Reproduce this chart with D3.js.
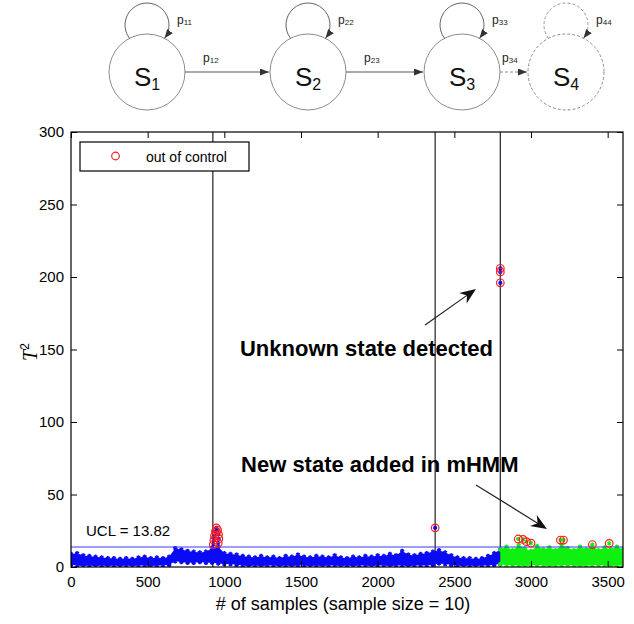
<!DOCTYPE html>
<html>
<head>
<meta charset="utf-8">
<script src="https://cdn.jsdelivr.net/npm/d3@7"></script>
<style>
  body { margin: 0; background: #fff; }
  svg { display: block; }
  text { font-family: "Liberation Sans", Arial, Helvetica, sans-serif; }
</style>
</head>
<body>
<svg id="chart" width="634" height="624"></svg>
<script>
// ---------------- data ----------------
// Markov chain states and transition labels
const stateNames = ["1", "2", "3", "4"];
const selfLabels = ["11", "22", "33", "44"];
const stepLabels = ["12", "23", "34"];

// T^2 statistic, 40-sample bins: upper and lower extent of the point cloud
const blueHigh = [
  9, 9.5, 8, 7.5, 7, 6.5, 6, 6, 5.5, 6,
  5.5, 6.5, 7, 6, 6.5, 6, 7, 13, 12, 11,
  10.5, 10, 10.5, 13, 14, 9.5, 9, 8.5, 7.5, 7,
  6.5, 7.5, 6.5, 7, 6, 7.5, 7, 8.5, 7, 6.5,
  7.5, 7, 6.5, 8, 6.5, 6, 7, 6.5, 7.5, 7,
  8, 7.5, 9, 8, 11, 8.5, 8, 9, 9.5, 10.5,
  11.5, 10, 8, 6.5, 6, 6, 5.5, 6, 7.5, 9.5,
  12
];
const blueLow = [
  1.5, 1, 0.5, 1, 0.5, 1, 0.5, 1, 0.5, 1,
  0.5, 1, 1, 0.5, 1, 1, 1.5, 4, 3.5, 3,
  3, 3.5, 3, 3, 2.5, 2, 2, 1.5, 1, 0.5,
  1, 0.5, 1, 1, 0.5, 1, 0.5, 1, 1, 0.5,
  1, 0.5, 1, 1, 0.5, 1, 0.5, 1, 1, 0.5,
  1, 1, 0.5, 1, 1, 0.5, 1, 1, 1, 1.5,
  2.5, 2, 1.5, 1, 0.5, 1, 0.5, 1, 1, 1.5,
  2
];
const greenHigh = [12, 14, 11.5, 15, 12.5, 11, 14.5, 12, 13.5, 11.5, 15, 13, 11.5, 14, 12, 14.5, 11.5, 13.5, 12, 14, 12];
const greenLow  = [2, 1, 1.5, 1, 0.5, 1, 1.5, 1, 0.5, 1, 1, 1.5, 1, 0.5, 1, 1, 1.5, 1, 0.5, 1, 1];
const blueStart = 0, greenStart = 2800, binWidth = 40;

// out-of-control samples
const blueAlarmSample = [928, 932, 936, 942, 948, 956, 962, 964, 960, 2375, 2800, 2800, 2800];
const blueAlarmValue  = [15.5, 18.5, 21.5, 24.5, 27, 25.5, 22.5, 19.5, 16.5, 27, 196, 203.5, 206];
const greenAlarmSample = [2917, 2948, 2970, 3000, 3192, 3212, 3400, 3510];
const greenAlarmValue  = [19.3, 19, 17.5, 16.5, 18.6, 18.6, 15.5, 16.3];

// state change points and control limit
const changePoints = [925, 2375, 2800];
const ucl = 13.82;

// axis ticks
const xTicks = [0, 500, 1000, 1500, 2000, 2500, 3000, 3500];
const yTicks = [0, 50, 100, 150, 200, 250, 300];

// ---------------- drawing ----------------
const svg = d3.select("#chart");

// ---- state diagram ----
const diag = svg.append("g");
const defs = svg.append("defs");
defs.append("marker")
  .attr("id", "ah").attr("markerUnits", "userSpaceOnUse")
  .attr("markerWidth", 9).attr("markerHeight", 7)
  .attr("refX", 9).attr("refY", 3.5).attr("orient", "auto")
  .append("path").attr("d", "M0,0 L9,3.5 L0,7 Z").attr("fill", "#333");

const cy = 72, r = 38, loopR = 22, loopCy = 25;
const cxs = [147, 308, 462, 566];
const circleCol = "#8c8c8c";

cxs.forEach((cx, i) => {
  const dashed = i === 3;
  diag.append("circle")
    .attr("cx", cx).attr("cy", cy).attr("r", r)
    .attr("fill", "none").attr("stroke", circleCol).attr("stroke-width", 1)
    .attr("stroke-dasharray", dashed ? "3,2" : null);
  // self loop: arc of a small circle that meets the state circle
  const d = cy - loopCy;
  const a = (loopR * loopR - r * r + d * d) / (2 * d);
  const h = Math.sqrt(loopR * loopR - a * a);
  const iy = loopCy + a;
  diag.append("path")
    .attr("d", `M${cx - h},${iy} A${loopR},${loopR} 0 1 1 ${cx + h},${iy}`)
    .attr("fill", "none").attr("stroke", dashed ? "#999" : "#666").attr("stroke-width", 1)
    .attr("stroke-dasharray", dashed ? "3,2" : null)
    .attr("marker-end", "url(#ah)");
  const st = diag.append("text")
    .attr("x", cx).attr("y", 86).attr("text-anchor", "middle")
    .attr("font-size", 26).attr("fill", "#111").text("S");
  st.append("tspan").attr("font-size", 16).attr("dy", 4).text(stateNames[i]);
  const pl = diag.append("text")
    .attr("x", cx + 30).attr("y", 24).attr("font-size", 12).attr("fill", "#222").text("p");
  pl.append("tspan").attr("font-size", 8).attr("dy", 1).text(selfLabels[i]);
});

stepLabels.forEach((lab, i) => {
  const x1 = cxs[i] + r, x2 = cxs[i + 1] - r;
  const dashed = i === 2;
  diag.append("line")
    .attr("x1", x1).attr("x2", x2 - 1).attr("y1", cy).attr("y2", cy)
    .attr("stroke", dashed ? "#888" : "#555").attr("stroke-width", 1)
    .attr("stroke-dasharray", dashed ? "3,2" : null)
    .attr("marker-end", "url(#ah)");
  const px = dashed ? x1 + 2 : x1 + 18;
  const pl = diag.append("text")
    .attr("x", px).attr("y", 62).attr("font-size", 12).attr("fill", "#222").text("p");
  pl.append("tspan").attr("font-size", 8).attr("dy", 1).text(lab);
});

// ---- control chart ----
const x = d3.scaleLinear().domain([0, 3600]).range([71, 623]);
const y = d3.scaleLinear().domain([0, 300]).range([567, 132]);
const [X0, X1] = x.range(), [Y0, Y1] = y.range();

defs.append("clipPath").attr("id", "plotClip")
  .append("rect").attr("x", X0).attr("y", Y1).attr("width", X1 - X0).attr("height", Y0 - Y1);

const plot = svg.append("g");
const inner = plot.append("g").attr("clip-path", "url(#plotClip)");

// vertical lines at change points
inner.selectAll("line.cp").data(changePoints).join("line")
  .attr("class", "cp")
  .attr("x1", d => x(d)).attr("x2", d => x(d))
  .attr("y1", Y1).attr("y2", Y0)
  .attr("stroke", "#333").attr("stroke-width", 1.3);

function cloud(high, low, start, color) {
  const pts = high.map((h, i) => ({ s: start + i * binWidth, hi: h, lo: low[i] }));
  inner.append("path").datum(pts)
    .attr("d", d3.area().x(d => x(d.s)).y0(d => y(d.lo)).y1(d => y(d.hi)))
    .attr("fill", color);
  const sym = d3.symbol(d3.symbolAsterisk, 14);
  const edge = pts.flatMap(d => [{ s: d.s, v: d.hi }, { s: d.s, v: d.lo }]);
  inner.append("g").selectAll("path").data(edge).join("path")
    .attr("transform", d => `translate(${x(d.s)},${y(d.v)})`)
    .attr("d", sym).attr("fill", "none").attr("stroke", color).attr("stroke-width", 1.6);
}
cloud(blueHigh, blueLow, blueStart, "#0a0af5");
cloud(greenHigh, greenLow, greenStart, "#10f010");

// control limit
inner.append("line")
  .attr("x1", X0).attr("x2", X1).attr("y1", y(ucl)).attr("y2", y(ucl))
  .attr("stroke", "#3a3aff").attr("stroke-width", 1.1);

// out-of-control points
function alarms(samples, values, color) {
  const pts = samples.map((s, i) => ({ s, v: values[i] }));
  const g = inner.append("g");
  g.selectAll("path").data(pts).join("path")
    .attr("transform", d => `translate(${x(d.s)},${y(d.v)})`)
    .attr("d", d3.symbol(d3.symbolAsterisk, 12))
    .attr("fill", "none").attr("stroke", color).attr("stroke-width", 1.6);
  g.selectAll("circle").data(pts).join("circle")
    .attr("cx", d => x(d.s)).attr("cy", d => y(d.v)).attr("r", 3.8)
    .attr("fill", "none").attr("stroke", "#ff1a1a").attr("stroke-width", 1.2);
}
alarms(blueAlarmSample, blueAlarmValue, "#0a0af5");
alarms(greenAlarmSample, greenAlarmValue, "#10f010");

// axes with inward ticks on all four sides
const fontAxis = 15;
function styleAxis(g, keepText) {
  g.select(".domain").remove();
  g.selectAll(".tick line").attr("stroke", "#000");
  if (!keepText) g.selectAll("text").remove();
  else g.selectAll("text").attr("font-size", fontAxis).attr("fill", "#000")
    .attr("font-family", "Liberation Sans, Arial, sans-serif");
}
plot.append("g").attr("transform", `translate(0,${Y0})`)
  .call(d3.axisBottom(x).tickValues(xTicks).tickSize(-6).tickPadding(9).tickFormat(d3.format("d")))
  .call(g => styleAxis(g, true));
plot.append("g").attr("transform", `translate(0,${Y1})`)
  .call(d3.axisTop(x).tickValues(xTicks).tickSize(-6))
  .call(g => styleAxis(g, false));
plot.append("g").attr("transform", `translate(${X0},0)`)
  .call(d3.axisLeft(y).tickValues(yTicks).tickSize(-6).tickPadding(7).tickFormat(d3.format("d")))
  .call(g => styleAxis(g, true));
plot.append("g").attr("transform", `translate(${X1},0)`)
  .call(d3.axisRight(y).tickValues(yTicks).tickSize(-6))
  .call(g => styleAxis(g, false));

// frame
plot.append("rect")
  .attr("x", X0).attr("y", Y1).attr("width", X1 - X0).attr("height", Y0 - Y1)
  .attr("fill", "none").attr("stroke", "#000").attr("stroke-width", 1.2);

// UCL label
plot.append("text")
  .attr("x", x(98)).attr("y", y(21.4))
  .attr("font-size", 15).attr("fill", "#000").text("UCL = " + ucl.toFixed(2));

// annotations
function arrow(x1, y1, x2, y2) {
  const ang = Math.atan2(y2 - y1, x2 - x1) * 180 / Math.PI;
  const L = 16, W = 6.5, N = 5;
  const len = Math.hypot(x2 - x1, y2 - y1);
  const g = plot.append("g")
    .attr("transform", `translate(${x1},${y1}) rotate(${ang})`);
  g.append("line").attr("x1", 0).attr("y1", 0).attr("x2", len - L + N).attr("y2", 0)
    .attr("stroke", "#222").attr("stroke-width", 1.2);
  g.append("path")
    .attr("d", `M${len},0 L${len - L},${-W} L${len - L + N},0 L${len - L},${W} Z`)
    .attr("fill", "#111");
}
arrow(x(2309), y(166.9), x(2641), y(191.7));
arrow(x(2641), y(56.6), x(3104), y(26.2));

plot.append("text")
  .attr("x", x(1102)).attr("y", y(145.5))
  .attr("font-size", 22).attr("font-weight", "bold").attr("fill", "#000")
  .text("Unknown state detected");
plot.append("text")
  .attr("x", x(1109)).attr("y", y(65.7))
  .attr("font-size", 22).attr("font-weight", "bold").attr("fill", "#000")
  .text("New state added in mHMM");

// legend
const leg = plot.append("g");
leg.append("rect").attr("x", 80).attr("y", 142).attr("width", 169).attr("height", 29)
  .attr("fill", "#fff").attr("stroke", "#000").attr("stroke-width", 1.2);
leg.append("circle").attr("cx", 115.5).attr("cy", 156).attr("r", 3.8)
  .attr("fill", "none").attr("stroke", "#ff1a1a").attr("stroke-width", 1.2);
leg.append("text").attr("x", 146).attr("y", 162).attr("font-size", 14).attr("fill", "#000")
  .text("out of control");

// axis titles
svg.append("text")
  .attr("x", 343).attr("y", 610).attr("text-anchor", "middle")
  .attr("font-size", 18).attr("fill", "#000")
  .text("# of samples (sample size = 10)");
const yl = svg.append("text")
  .attr("transform", "translate(37,352) rotate(-90)")
  .attr("text-anchor", "middle").attr("fill", "#000");
yl.append("tspan").attr("font-family", "Liberation Serif, DejaVu Serif, serif")
  .attr("font-style", "italic").attr("font-size", 20).text("T");
yl.append("tspan").attr("font-size", 12).attr("dy", -8).text("2");
</script>
</body>
</html>
